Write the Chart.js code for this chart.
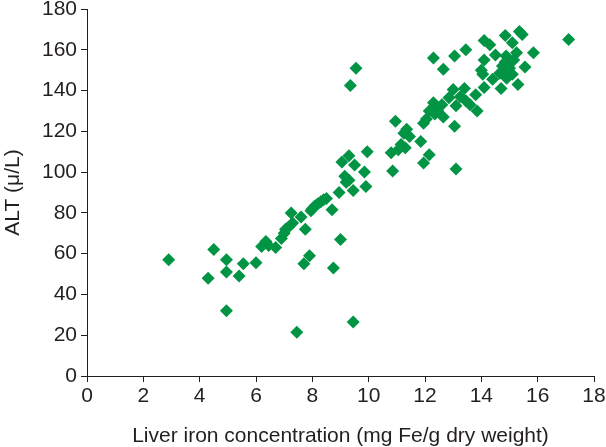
<!DOCTYPE html>
<html>
<head>
<meta charset="utf-8">
<script src="https://cdn.jsdelivr.net/npm/chart.js@4/dist/chart.umd.min.js"></script>
<style>
  html, body { margin: 0; padding: 0; background: #fff; }
  #wrap { width: 606px; height: 447px; position: relative; }
</style>
</head>
<body>
<div id="wrap"><canvas id="chart"></canvas></div>
<script>
// ------------------------------------------------------------------ data
const ironValues = [
    2.9, 4.3, 4.5, 4.95, 4.95, 4.95, 5.4, 5.55, 6.0, 6.2,
    6.35, 6.45, 6.7, 6.9, 7.0, 7.15, 7.3, 7.25, 7.45, 7.6,
    7.75, 7.7, 7.9, 7.95, 8.1, 8.2, 8.3, 8.4, 8.5, 8.7,
    8.75, 8.95, 9.0, 9.05, 9.15, 9.3, 9.3, 9.45, 9.5, 9.45,
    9.35, 9.55, 9.85, 9.9, 9.95, 10.85, 10.8, 11.05, 11.15, 11.3,
    10.95, 11.25, 11.35, 11.45, 11.85, 11.95, 12.15, 11.95, 12.15, 12.35,
    12.3, 12.45, 12.6, 12.65, 12.85, 13.0, 13.1, 13.25, 13.4, 13.45,
    13.05, 13.1, 13.85, 13.8, 14.1, 14.0, 14.05, 14.4, 14.7, 15.3,
    14.65, 14.95, 14.75, 15.55, 15.0, 15.1, 14.85, 15.15, 14.9, 14.1,
    14.5, 14.88, 15.25, 15.85, 12.3, 12.65, 13.05, 13.45, 14.1, 14.3,
    14.85, 15.35, 15.45, 15.1, 17.1, 7.05, 8.0, 9.2, 12.05, 13.6
];
const altValues = [
    57, 48, 62, 57, 51, 32, 49, 55, 55.5, 63.5,
    66, 64, 63, 67.5, 70, 73, 75, 80, 21.5, 78,
    72, 55, 59, 81, 83.5, 84.5, 85.5, 86.5, 87, 81.5,
    53, 90, 67, 105, 98, 96, 108, 91, 103.5, 26.5,
    142.5, 151, 100, 93, 110, 100.5, 109.5, 111, 113.5, 112,
    125, 119, 121, 117.5, 115, 104.5, 108.5, 124, 130, 128.5,
    134, 130, 133, 127, 136.5, 140.5, 132.5, 137, 141, 135,
    122.5, 101.5, 130, 138, 141.5, 150, 148, 145.5, 141, 143,
    148.5, 149.5, 152, 151.5, 151, 148, 154, 155, 146, 155,
    157.5, 157, 158.5, 158.5, 156, 150.5, 157, 160, 164.5, 162.5,
    167, 169, 167.5, 163.5, 165, 72, 82, 95, 126, 133
];

const xTicks = [0, 2, 4, 6, 8, 10, 12, 14, 16, 18];
const yTicks = [0, 20, 40, 60, 80, 100, 120, 140, 160, 180];

const xTitle = 'Liver iron concentration (mg Fe/g dry weight)';
const yTitle = 'ALT (\u03BC/L)';

// ------------------------------------------------------------------ chart
const ink = '#231f20';
const green = '#009444';
const font = { family: '"Liberation Sans", Arial, sans-serif', size: 21 };

const points = ironValues.map((x, i) => ({ x, y: altValues[i] }));

const axisGrid = {
    display: true,
    drawOnChartArea: false,
    drawTicks: true,
    tickLength: 6,
    color: ink,
    lineWidth: 1
};

new Chart(document.getElementById('chart'), {
    type: 'scatter',
    data: {
        datasets: [{
            data: points,
            pointStyle: 'rectRot',
            pointRadius: 6.5,
            pointHoverRadius: 6.5,
            pointBackgroundColor: green,
            pointBorderColor: green,
            pointBorderWidth: 0
        }]
    },
    options: {
        responsive: true,
        maintainAspectRatio: false,
        animation: false,
        layout: { padding: { left: 0, right: 12, top: 9, bottom: 0 } },
        plugins: {
            legend: { display: false },
            tooltip: { enabled: false }
        },
        scales: {
            x: {
                type: 'linear',
                min: xTicks[0],
                max: xTicks[xTicks.length - 1],
                afterBuildTicks: s => { s.ticks = xTicks.map(v => ({ value: v })); },
                afterFit: s => { s.height = 71; s.paddingLeft = 0; s.paddingRight = 0; },
                grid: axisGrid,
                border: { display: true, color: ink, width: 1 },
                ticks: { color: ink, font, padding: 2, maxRotation: 0 },
                title: {
                    display: true,
                    text: xTitle,
                    color: ink,
                    font,
                    padding: { top: 0, bottom: -2 }
                }
            },
            y: {
                type: 'linear',
                min: yTicks[0],
                max: yTicks[yTicks.length - 1],
                afterBuildTicks: s => { s.ticks = yTicks.map(v => ({ value: v })); },
                afterFit: s => { s.width = 87; s.paddingTop = 0; s.paddingBottom = 0; },
                grid: axisGrid,
                border: { display: true, color: ink, width: 1 },
                ticks: { color: ink, font, padding: 4 },
                title: {
                    display: true,
                    text: yTitle,
                    color: ink,
                    font,
                    padding: { top: 1, bottom: 0 }
                }
            }
        }
    }
});
</script>
</body>
</html>
